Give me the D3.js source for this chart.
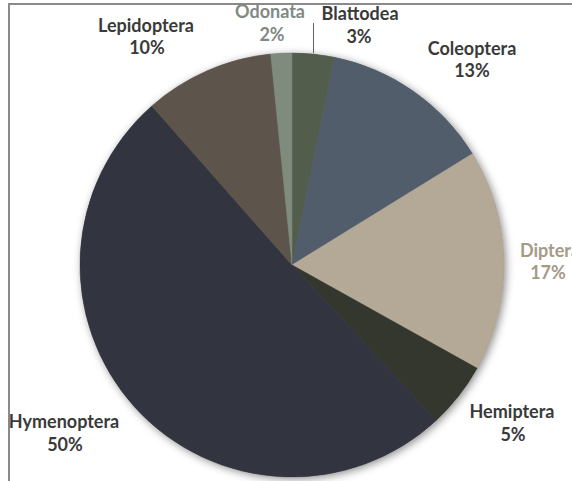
<!DOCTYPE html>
<html><head><meta charset="utf-8">
<script src="https://cdn.jsdelivr.net/npm/d3@7"></script>
<style>html,body{margin:0;padding:0;background:#fff;overflow:hidden}</style>
</head><body>
<svg id="c" width="572" height="481"></svg>
<script>
const categories = ["Blattodea","Coleoptera","Diptera","Hemiptera","Hymenoptera","Lepidoptera","Odonata"];
const values = [3.2, 13.0, 16.9, 5.0, 50.4, 9.9, 1.6];
const percentLabels = ["3%","13%","17%","5%","50%","10%","2%"];
const colors = ["#525d4b","#525d6c","#b4a997","#33372e","#32353f","#5d554b","#7e8b7d"];
const labelColors = ["#3a3a3a","#3a3a3a","#a59a88","#3a3a3a","#3a3a3a","#3a3a3a","#7f8a84"];
// [name x, name baseline, percent x, percent baseline]
const labelPos = [[360,20,359,43],[472,55,472,77],[550,257,548,279],[512,418,513,441],[64,428,65,451],[146,32,147,54],[270,18,272,41]];

const svg = d3.select("#c");
const W = 572, H = 481, cx = 292, cy = 265, r = 212;

const defs = svg.append("defs");
const f = defs.append("filter").attr("id","sh").attr("x","-10%").attr("y","-10%").attr("width","120%").attr("height","120%");
f.append("feDropShadow").attr("dx",2).attr("dy",2).attr("stdDeviation",4).attr("flood-color","#000").attr("flood-opacity",0.45);

svg.append("line").attr("x1",8).attr("x2",W).attr("y1",4).attr("y2",4).attr("stroke","#8a8a8a").attr("stroke-width",2);
svg.append("line").attr("x1",9).attr("x2",9).attr("y1",3).attr("y2",H).attr("stroke","#8a8a8a").attr("stroke-width",2);

const data = categories.map((c,i)=>({name:c,value:values[i],pct:percentLabels[i],color:colors[i],lc:labelColors[i],pos:labelPos[i]}));
const pie = d3.pie().sort(null).value(d=>d.value);
const arc = d3.arc().innerRadius(0).outerRadius(r);
const g = svg.append("g").attr("transform",`translate(${cx},${cy})`);
g.append("circle").attr("r",r).attr("fill","#888").attr("filter","url(#sh)");
g.selectAll("path").data(pie(data)).join("path")
  .attr("d",arc).attr("fill",d=>d.data.color)
  .attr("stroke",d=>d.data.color).attr("stroke-width",0.5);

svg.append("line").attr("x1",313.5).attr("x2",313.5).attr("y1",23).attr("y2",53).attr("stroke","#606060").attr("stroke-width",1);

const lab = svg.append("g").attr("font-family","Lato, 'Open Sans', sans-serif").attr("font-weight","bold").attr("font-size",18).attr("text-anchor","middle");
data.forEach(d=>{
  const t = lab.append("text").attr("fill",d.lc);
  t.append("tspan").attr("x",d.pos[0]).attr("y",d.pos[1]).text(d.name);
  t.append("tspan").attr("x",d.pos[2]).attr("y",d.pos[3]).text(d.pct);
});
</script>
</body></html>
